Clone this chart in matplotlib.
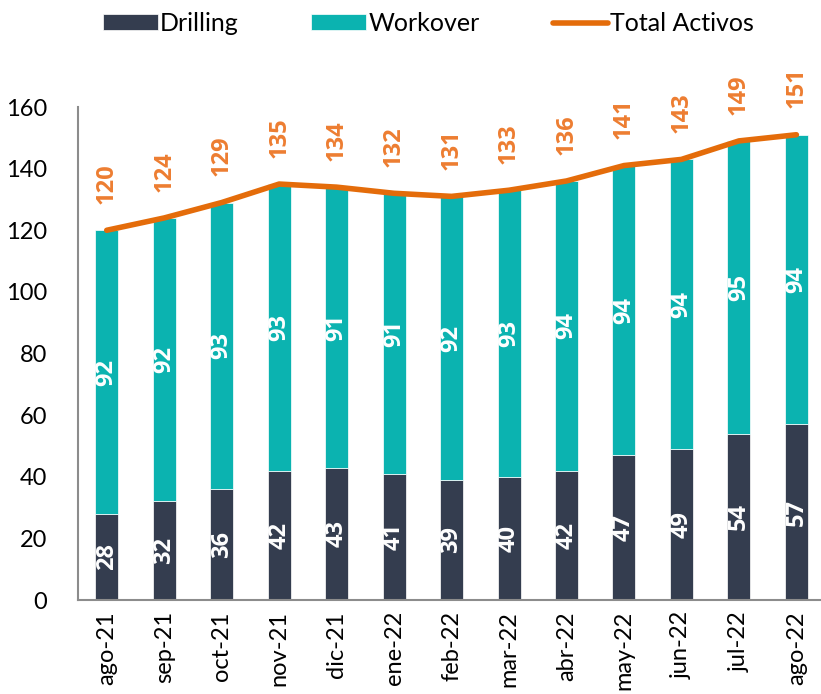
import matplotlib.pyplot as plt
import numpy as np

meses = ['ago-21', 'sep-21', 'oct-21', 'nov-21', 'dic-21', 'ene-22', 'feb-22',
         'mar-22', 'abr-22', 'may-22', 'jun-22', 'jul-22', 'ago-22']
drilling = [28, 32, 36, 42, 43, 41, 39, 40, 42, 47, 49, 54, 57]
workover = [92, 92, 93, 93, 91, 91, 92, 93, 94, 94, 94, 95, 94]
total = [120, 124, 129, 135, 134, 132, 131, 133, 136, 141, 143, 149, 151]

plt.rcParams['font.family'] = ['Lato', 'DejaVu Sans']

c_dr = '#343d4f'
c_wo = '#0bb3b0'
c_tot = '#e46c0a'
c_lbl = '#ed7d31'
bold = ['Open Sans', 'DejaVu Sans']

fig = plt.figure(figsize=(8.21, 6.94), dpi=100)
ax = fig.add_axes([0.095, 0.1354, 0.91, 0.7104])
x = np.arange(len(meses))

b1 = ax.bar(x, drilling, 0.4, color=c_dr, label='Drilling', edgecolor='white', linewidth=0.5)
b2 = ax.bar(x, workover, 0.4, bottom=drilling, color=c_wo, label='Workover', edgecolor='white', linewidth=0.5)
ln, = ax.plot(x, total, color=c_tot, lw=4, label='Total Activos', solid_capstyle='round')

for i in range(len(meses)):
    ax.text(x[i], drilling[i] / 2, str(drilling[i]), rotation=90, ha='center', va='center',
            color='white', fontsize=17, fontweight='bold', family=bold)
    ax.text(x[i], drilling[i] + workover[i] / 2, str(workover[i]), rotation=90, ha='center',
            va='center', color='white', fontsize=17, fontweight='bold', family=bold)
    ax.annotate(str(total[i]), (x[i], total[i]), xytext=(0, 19), textcoords='offset points',
                rotation=90, ha='center', va='bottom', color=c_lbl, fontsize=17,
                fontweight='bold', family=bold, annotation_clip=False)

ax.set_xlim(-0.5, 12.5)
ax.set_ylim(0, 160)
ax.set_yticks(range(0, 161, 20))
ax.set_xticks(x)
ax.set_xticklabels(meses, rotation=90, fontsize=17)
ax.tick_params(axis='y', labelsize=17, length=0, pad=22)
ax.tick_params(axis='x', length=0, pad=8)
for s in ['top', 'right']:
    ax.spines[s].set_visible(False)
for s in ['left', 'bottom']:
    ax.spines[s].set_color('#8c8c8c')
    ax.spines[s].set_linewidth(1.5)

ax.legend([b1, b2, ln], ['Drilling', 'Workover', 'Total Activos'],
          loc='center left', bbox_to_anchor=(0.125, 0.966), bbox_transform=fig.transFigure,
          ncol=3, frameon=False, fontsize=18, handlelength=2.2, handleheight=0.6,
          columnspacing=2.9, handletextpad=0.1, borderpad=0, borderaxespad=0)

fig.savefig('out.png', dpi=100)
